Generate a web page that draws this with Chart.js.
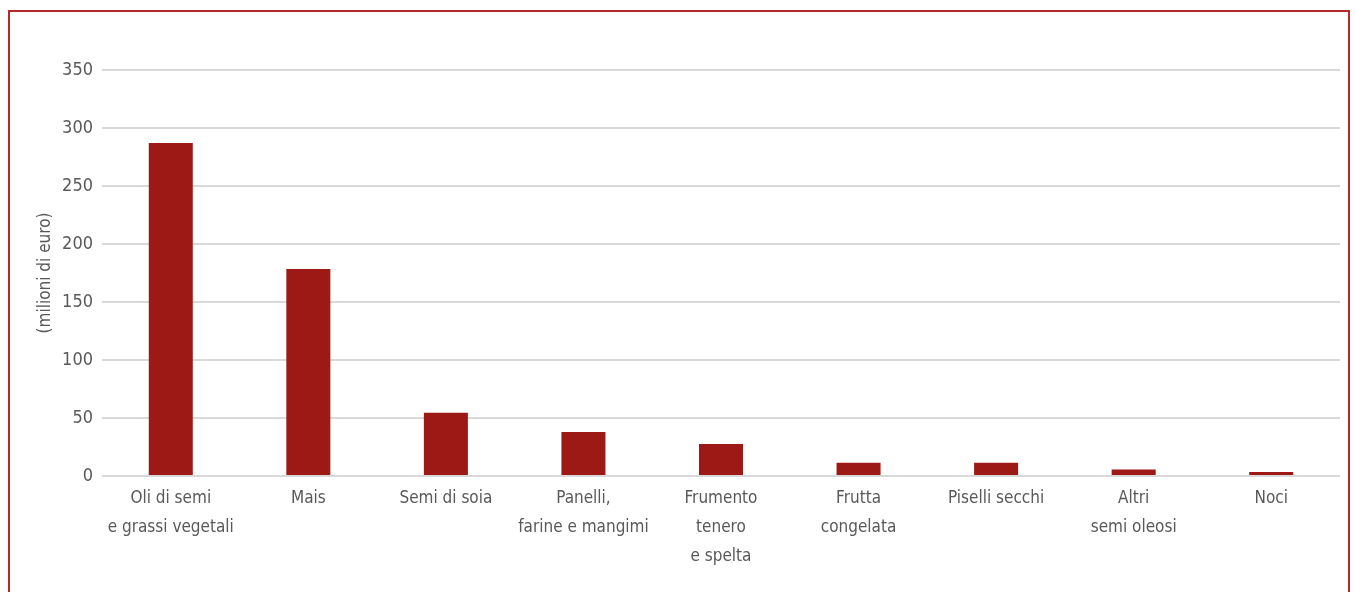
<!DOCTYPE html>
<html>
<head>
<meta charset="utf-8">
<script src="https://cdn.jsdelivr.net/npm/chart.js@4/dist/chart.umd.min.js"></script>
<style>
  body { margin: 0; background: #fff; }
  #wrap { position: relative; width: 1355px; height: 592px; overflow: hidden; }
  #frame { position: absolute; left: 8px; top: 10px; width: 1338px; height: 700px;
           border: 2px solid #b52a2a; pointer-events: none; }
  canvas { position: absolute; left: 0; top: 0; }
</style>
</head>
<body>
<div id="wrap">
  <canvas id="grafico" width="1355" height="592"></canvas>
  <div id="frame"></div>
</div>
<script>
// categorie e valori (milioni di euro)
var categorie = [
    ['Oli di semi', 'e grassi vegetali'],
    'Mais',
    'Semi di soia',
    ['Panelli,', 'farine e mangimi'],
    ['Frumento', 'tenero', 'e spelta'],
    ['Frutta', 'congelata'],
    'Piselli secchi',
    ['Altri', 'semi oleosi'],
    'Noci'
];
var valori = [287, 178.5, 54.5, 38, 27.5, 11.5, 11.5, 5.5, 3.5];
var tickY = [0, 50, 100, 150, 200, 250, 300, 350];

var font = 'Liberation Sans Narrow, DejaVu Sans Condensed, sans-serif';
var grigio = '#595959';

var ctx = document.getElementById('grafico').getContext('2d');
var chart = new Chart(ctx, {
    type: 'bar',
    data: {
        labels: categorie,
        datasets: [{
            label: 'Valore',
            backgroundColor: '#9c1915',
            data: valori,
            barPercentage: 0.32,
            categoryPercentage: 1
        }]
    },
    options: {
        responsive: false,
        animation: false,
        layout: { padding: { top: 70, right: 15, bottom: 0, left: 0 } },
        plugins: { legend: { display: false }, tooltip: { enabled: false } },
        scales: {
            x: {
                grid: { display: false },
                border: { display: false },
                ticks: {
                    color: grigio,
                    font: { family: font, size: 17, lineHeight: 1.7 },
                    padding: 0,
                    maxRotation: 0,
                    autoSkip: false
                },
                afterFit: function (scale) { scale.height = 116; }
            },
            y: {
                min: 0,
                max: 350,
                afterBuildTicks: function (scale) {
                    scale.ticks = tickY.map(function (v) { return { value: v }; });
                },
                grid: { color: '#d9d9d9', lineWidth: 2, drawTicks: false },
                border: { display: false },
                ticks: {
                    color: grigio,
                    font: { family: font, size: 18 },
                    padding: 9
                },
                title: {
                    display: true,
                    text: '(milioni di euro)',
                    color: grigio,
                    font: { family: font, size: 17 },
                    padding: { top: 35, bottom: 0 }
                },
                afterFit: function (scale) { scale.width = 102; }
            }
        }
    }
});
</script>
</body>
</html>
